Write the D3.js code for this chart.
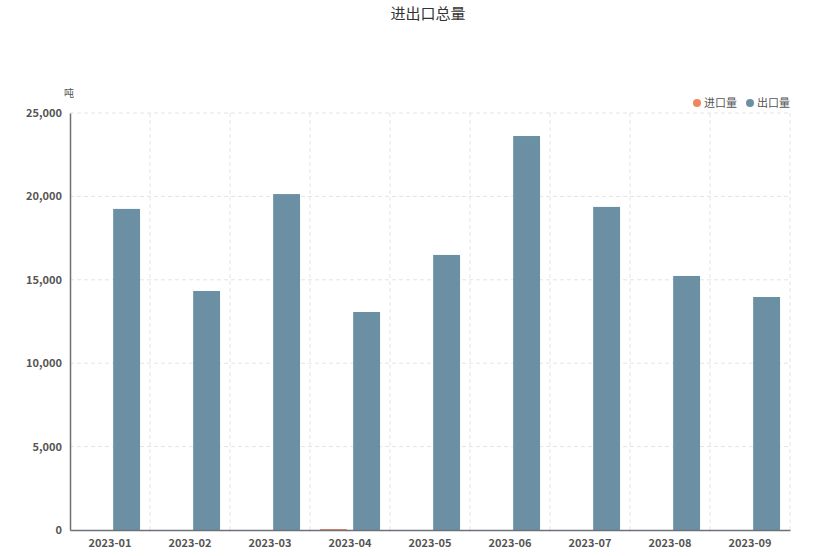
<!DOCTYPE html><html><head><meta charset="utf-8"><script src="https://cdn.jsdelivr.net/npm/d3@7"></script>
<style>body{margin:0;background:#fff}text{font-family:"Noto Sans CJK SC","Open Sans",sans-serif}</style></head><body>
<svg id="c" width="833" height="556"></svg>
<script>
const categories=["2023-01","2023-02","2023-03","2023-04","2023-05","2023-06","2023-07","2023-08","2023-09"];
const importValues=[0,0,0,60,0,0,0,0,0];
const exportValues=[19250,14330,20140,13070,16490,23620,19370,15230,13970];
const yTicks=[0,5000,10000,15000,20000,25000];
const seriesNames=["进口量","出口量"];
const colors=["#f0875a","#6b90a3"];
const svg=d3.select("#c");
const L=70,R=790,T=113,B=530;
const x=d3.scaleBand().domain(categories).range([L,R]);
const x1=d3.scaleBand().domain([0,1]).range([0,x.bandwidth()]).paddingInner(0.19).paddingOuter(0.3);
const y=d3.scaleLinear().domain([0,25000]).range([B,T]);
svg.append("text").attr("x",428).attr("y",19).attr("text-anchor","middle").attr("font-size",15).attr("fill","#333").text("进出口总量");
const g=svg.append("g");
yTicks.slice(1).forEach(t=>g.append("line").attr("x1",L).attr("x2",R).attr("y1",y(t)).attr("y2",y(t)).attr("stroke","#e4e4e8").attr("stroke-dasharray","4,3"));
categories.forEach((c,i)=>{const xx=x(c)+x.bandwidth();g.append("line").attr("x1",xx).attr("x2",xx).attr("y1",T).attr("y2",B).attr("stroke","#e4e4e8").attr("stroke-dasharray","4,3");});
[importValues,exportValues].forEach((vals,s)=>{
 g.selectAll(null).data(vals).enter().append("rect").attr("x",(d,i)=>x(categories[i])+x1(s)).attr("width",x1.bandwidth())
 .attr("y",d=>y(d)).attr("height",d=>B-y(d)).attr("fill",colors[s]);
});
const ya=svg.append("g").attr("transform",`translate(${L},0)`).call(d3.axisLeft(y).tickValues(yTicks).tickFormat(d3.format(",")).tickSize(0).tickPadding(8));
ya.select(".domain").attr("stroke","#6e7079").attr("stroke-width",1.5);
ya.selectAll("text").attr("font-size",11).attr("fill","#555").attr("font-weight","bold");
const xa=svg.append("g").attr("transform",`translate(0,${B})`).call(d3.axisBottom(x).tickSize(0).tickPadding(9));
xa.select(".domain").attr("stroke","#6e7079").attr("stroke-width",1.5);
xa.selectAll("text").attr("font-size",11).attr("fill","#555").attr("font-weight","bold");
svg.append("text").attr("x",69).attr("y",97).attr("text-anchor","middle").attr("font-size",10).attr("fill","#555").text("吨");
const lg=[[697,"进口量"],[750,"出口量"]];
lg.forEach((l,i)=>{svg.append("circle").attr("cx",l[0]).attr("cy",103).attr("r",4).attr("fill",colors[i]);
svg.append("text").attr("x",l[0]+7).attr("y",107).attr("font-size",11).attr("fill","#555").text(seriesNames[i]);});
</script></body></html>
